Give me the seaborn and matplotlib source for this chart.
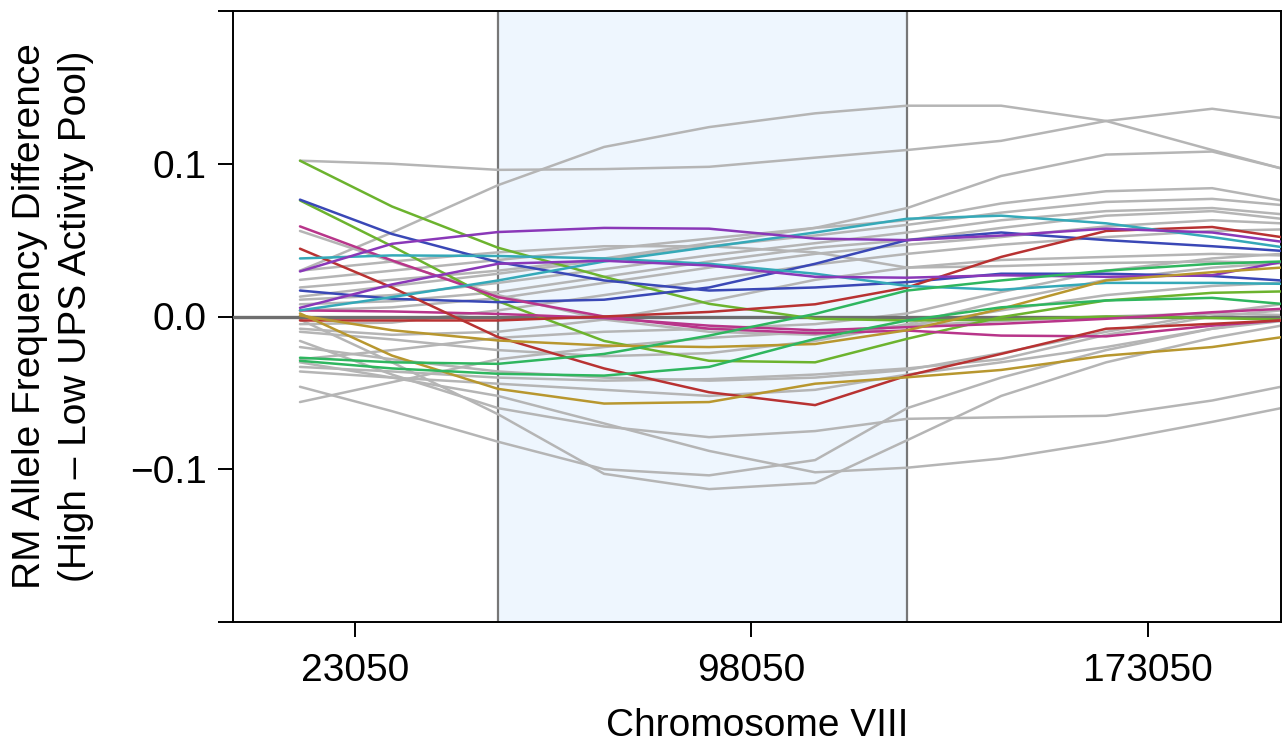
import matplotlib
matplotlib.use("Agg")
import matplotlib.pyplot as plt
import seaborn as sns
import pandas as pd

# ---- data -------------------------------------------------------------
positions = [12670, 30080, 50130, 70180, 90040, 110090, 127490, 145270, 165130, 185180, 198200]
x_ticks = [23050, 98050, 173050]
x_tick_labels = ["23050", "98050", "173050"]
y_ticks = [-0.2, -0.1, 0.0, 0.1, 0.2]
y_tick_labels = ["", "\u22120.1", "0.0", "0.1", ""]
region = [50130, 127490]

gray_01 = [0.102, 0.100, 0.096, 0.0965, 0.098, 0.104, 0.109, 0.115, 0.128, 0.136, 0.130]
gray_02 = [0.030, 0.055, 0.086, 0.111, 0.124, 0.133, 0.138, 0.138, 0.128, 0.109, 0.097]
gray_03 = [0.019, 0.024, 0.030, 0.038, 0.048, 0.058, 0.071, 0.092, 0.106, 0.108, 0.097]
gray_04 = [0.056, 0.036, 0.014, -0.002, -0.010, -0.012, -0.006, 0.004, 0.014, 0.020, 0.022]
gray_05 = [0.024, 0.030, 0.037, 0.044, 0.051, 0.058, 0.063, 0.074, 0.082, 0.084, 0.076]
gray_06 = [0.013, 0.020, 0.028, 0.037, 0.046, 0.053, 0.060, 0.068, 0.075, 0.077, 0.073]
gray_07 = [0.011, 0.014, 0.022, 0.031, 0.040, 0.048, 0.055, 0.063, 0.069, 0.071, 0.067]
gray_08 = [0.008, 0.010, 0.016, 0.026, 0.036, 0.045, 0.050, 0.058, 0.066, 0.069, 0.064]
gray_09 = [0.004, 0.006, 0.012, 0.022, 0.032, 0.041, 0.047, 0.052, 0.059, 0.063, 0.061]
gray_10 = [-0.005, -0.004, 0.004, 0.014, 0.024, 0.034, 0.041, 0.047, 0.052, 0.056, 0.057]
gray_11 = [-0.008, -0.012, -0.010, -0.002, 0.010, 0.024, 0.032, 0.037, 0.039, 0.041, 0.040]
gray_12 = [0.030, 0.036, 0.042, 0.046, 0.046, 0.042, 0.032, 0.033, 0.035, 0.036, 0.035]
gray_13 = [-0.016, -0.038, -0.060, -0.072, -0.079, -0.075, -0.067, -0.066, -0.065, -0.055, -0.046]
gray_14 = [-0.046, -0.062, -0.082, -0.100, -0.104, -0.094, -0.060, -0.040, -0.022, -0.008, -0.002]
gray_15 = [-0.002, -0.030, -0.064, -0.103, -0.113, -0.109, -0.081, -0.052, -0.030, -0.014, -0.006]
gray_16 = [-0.030, -0.040, -0.052, -0.070, -0.088, -0.102, -0.099, -0.093, -0.082, -0.069, -0.060]
gray_17 = [-0.033, -0.036, -0.040, -0.042, -0.041, -0.038, -0.034, -0.028, -0.012, 0.000, 0.004]
gray_18 = [-0.028, -0.022, -0.014, -0.010, -0.008, -0.005, 0.002, 0.016, 0.030, 0.038, 0.041]
gray_19 = [-0.056, -0.043, -0.028, -0.020, -0.014, -0.010, -0.006, -0.003, 0.000, 0.002, 0.001]
gray_20 = [-0.036, -0.040, -0.044, -0.048, -0.052, -0.048, -0.038, -0.030, -0.020, -0.008, -0.003]
gray_21 = [-0.020, -0.028, -0.036, -0.040, -0.042, -0.040, -0.035, -0.024, -0.010, 0.002, 0.008]
gray_22 = [-0.010, -0.015, -0.022, -0.026, -0.024, -0.016, -0.005, 0.010, 0.024, 0.032, 0.035]

lime_a = [0.102, 0.072, 0.045, 0.026, 0.0083, -0.0015, -0.0026, -0.002, 0.000, -0.001, -0.002]
lime_b = [0.076, 0.046, 0.010, -0.016, -0.029, -0.030, -0.0146, -0.0004, 0.0105, 0.0155, 0.0164]
blue_a = [0.0765, 0.054, 0.0356, 0.0236, 0.017, 0.019, 0.0225, 0.028, 0.028, 0.0265, 0.0236]
blue_b = [0.017, 0.0116, 0.0094, 0.011, 0.019, 0.0345, 0.050, 0.055, 0.050, 0.046, 0.043]
magenta_a = [0.059, 0.0367, 0.0127, 0.000, -0.008, -0.011, -0.0092, -0.0125, -0.013, -0.006, -0.0026]
magenta_b = [0.004, 0.0033, 0.0017, -0.001, -0.006, -0.009, -0.007, -0.0048, -0.0015, 0.0028, 0.005]
red_a = [0.0444, 0.019, -0.0135, -0.034, -0.0496, -0.058, -0.0387, -0.0245, -0.008, -0.0048, -0.0026]
red_b = [-0.0026, -0.0026, -0.0026, 0.000, 0.003, 0.008, 0.019, 0.039, 0.056, 0.0586, 0.052]
teal_a = [0.038, 0.040, 0.0396, 0.038, 0.0345, 0.028, 0.020, 0.0175, 0.022, 0.022, 0.0214]
teal_b = [0.004, 0.0127, 0.0236, 0.036, 0.0455, 0.055, 0.064, 0.066, 0.061, 0.052, 0.0455]
purple_a = [0.0295, 0.0476, 0.0553, 0.058, 0.0575, 0.051, 0.050, 0.053, 0.0575, 0.055, 0.049]
purple_b = [0.0057, 0.021, 0.0345, 0.0365, 0.0334, 0.026, 0.0254, 0.027, 0.026, 0.027, 0.0356]
gold_a = [0.002, -0.0256, -0.0474, -0.057, -0.056, -0.044, -0.0398, -0.035, -0.0256, -0.020, -0.0136]
gold_b = [0.0007, -0.009, -0.0157, -0.019, -0.020, -0.018, -0.009, 0.005, 0.0236, 0.029, 0.032]
green_a = [-0.027, -0.030, -0.031, -0.0245, -0.0125, 0.0017, 0.017, 0.0236, 0.030, 0.0345, 0.036]
green_b = [-0.029, -0.034, -0.0375, -0.0387, -0.033, -0.0146, -0.0026, 0.006, 0.0105, 0.0122, 0.0083]

gray_series = [gray_01, gray_02, gray_03, gray_04, gray_05, gray_06, gray_07, gray_08,
               gray_09, gray_10, gray_11, gray_12, gray_13, gray_14, gray_15, gray_16,
               gray_17, gray_18, gray_19, gray_20, gray_21, gray_22]
color_series = {
    "lime_a": lime_a, "lime_b": lime_b, "blue_a": blue_a, "blue_b": blue_b,
    "magenta_a": magenta_a, "magenta_b": magenta_b, "red_a": red_a, "red_b": red_b,
    "teal_a": teal_a, "teal_b": teal_b, "purple_a": purple_a, "purple_b": purple_b,
    "gold_a": gold_a, "gold_b": gold_b, "green_a": green_a, "green_b": green_b,
}
palette = {
    "lime_a": "#6cb32e", "lime_b": "#6cb32e", "blue_a": "#3a48b6", "blue_b": "#3a48b6",
    "magenta_a": "#b8358a", "magenta_b": "#b8358a", "red_a": "#b83232", "red_b": "#b83232",
    "teal_a": "#35a9b8", "teal_b": "#35a9b8", "purple_a": "#8a38b8", "purple_b": "#8a38b8",
    "gold_a": "#b8972f", "gold_b": "#b8972f", "green_a": "#2fb65f", "green_b": "#2fb65f",
}

# ---- long tables ------------------------------------------------------
gray_df = pd.DataFrame(
    [(i, p, v) for i, s in enumerate(gray_series) for p, v in zip(positions, s)],
    columns=["line", "pos", "diff"],
)
col_df = pd.DataFrame(
    [(k, p, v) for k, s in color_series.items() for p, v in zip(positions, s)],
    columns=["line", "pos", "diff"],
)

# ---- figure -----------------------------------------------------------
sns.set_theme(style="white")
plt.rcParams["font.family"] = ["Liberation Sans", "DejaVu Sans"]

fig = plt.figure(figsize=(12.82, 7.5), dpi=100)
ax = fig.add_axes([233 / 1282, 1 - 622 / 750, (1281 - 233) / 1282, (622 - 11) / 750])

ax.axvspan(region[0], region[1], color="#eef6fe", zorder=0, lw=0)
for r in region:
    ax.axvline(r, color="#777777", lw=1.6, zorder=1)

sns.lineplot(data=gray_df, x="pos", y="diff", units="line", estimator=None,
             color="#b5b5b5", lw=1.8, ax=ax, zorder=2)
ax.axhline(0, color="#6e6e6e", lw=2.4, zorder=3)
sns.lineplot(data=col_df, x="pos", y="diff", hue="line", palette=palette,
             units="line", estimator=None, lw=1.8, ax=ax, legend=False, zorder=4)

ax.set_xlim(0, 198200)
ax.set_ylim(-0.2, 0.2)
ax.set_xticks(x_ticks)
ax.set_xticklabels(x_tick_labels)
ax.set_yticks(y_ticks)
ax.set_yticklabels(y_tick_labels)
ax.tick_params(axis="both", direction="out", length=11, width=1.4, color="black",
               labelsize=28, labelcolor="black", bottom=True, left=True)
ax.tick_params(axis="x", pad=11)
ax.tick_params(axis="y", pad=8)

for s in ax.spines.values():
    s.set_visible(True)
    s.set_color("black")
    s.set_linewidth(1.4)

ax.set_xlabel("Chromosome VIII", fontsize=28, labelpad=14, color="black")
ax.set_ylabel("")
fig.text(53 / 1282, 1 - 316 / 750,
         "RM Allele Frequency Difference\n(High \u2013 Low UPS Activity Pool)",
         rotation=90, ha="center", va="center", fontsize=28, linespacing=1.35,
         multialignment="center", color="black")

fig.savefig("out.png", dpi=100)
